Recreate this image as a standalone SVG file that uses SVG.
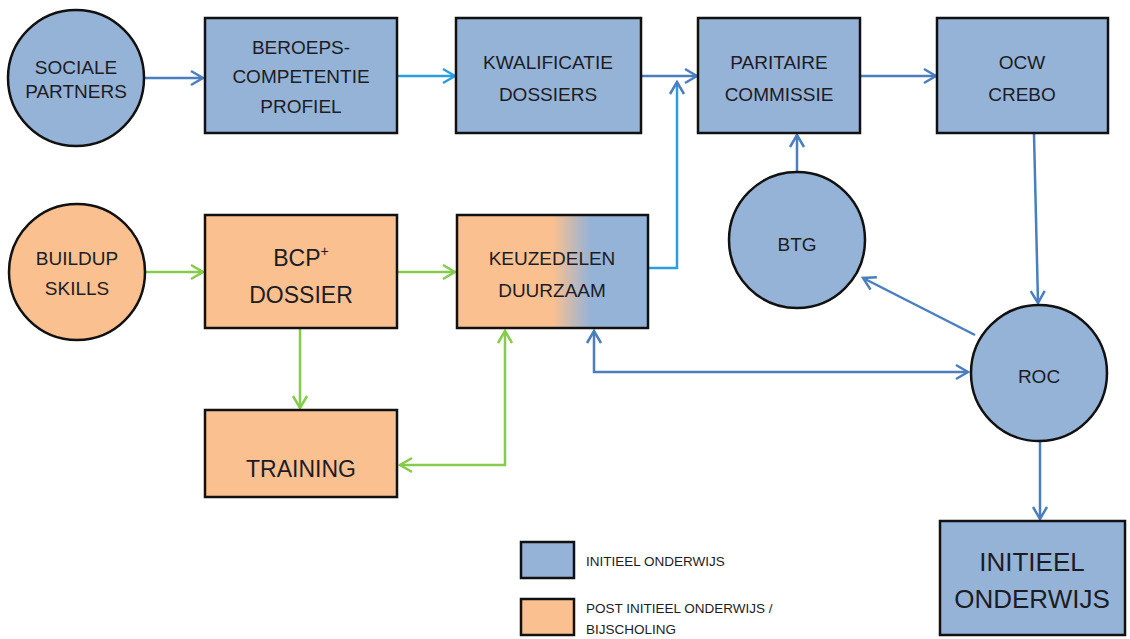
<svg xmlns="http://www.w3.org/2000/svg" width="1130" height="639" viewBox="0 0 1130 639">
<style>
.b{fill:#95b3d7;stroke:#111;stroke-width:2.5}
.o{fill:#fac090;stroke:#111;stroke-width:2.5}
text{font-family:"Liberation Sans","DejaVu Sans",sans-serif;fill:#1c1c24;text-anchor:middle}
.t20{font-size:19px}
.t24{font-size:23px}
.lg{font-size:13.5px;text-anchor:start}
.cb{fill:none;stroke:#4a7ebf;stroke-width:2.5}
.cc{fill:none;stroke:#2a9ee0;stroke-width:2.5}
.cg{fill:none;stroke:#84cc4a;stroke-width:2.5}
</style>
<defs>
<marker id="ab" markerUnits="userSpaceOnUse" markerWidth="16" markerHeight="18" viewBox="0 0 16 18" refX="14" refY="9" orient="auto-start-reverse"><path d="M2,2 L14,9 L2,16" fill="none" stroke="#4a7ebf" stroke-width="2.5"/></marker>
<marker id="ac" markerUnits="userSpaceOnUse" markerWidth="16" markerHeight="18" viewBox="0 0 16 18" refX="14" refY="9" orient="auto-start-reverse"><path d="M2,2 L14,9 L2,16" fill="none" stroke="#2a9ee0" stroke-width="2.5"/></marker>
<marker id="ag" markerUnits="userSpaceOnUse" markerWidth="16" markerHeight="18" viewBox="0 0 16 18" refX="14" refY="9" orient="auto-start-reverse"><path d="M2,2 L14,9 L2,16" fill="none" stroke="#84cc4a" stroke-width="2.5"/></marker>
<linearGradient id="kg" x1="0" y1="0" x2="1" y2="0">
<stop offset="0.5" stop-color="#fac090"/>
<stop offset="0.7" stop-color="#95b3d7"/>
</linearGradient>
</defs>
<rect width="1130" height="639" fill="#fff"/>

<g id="connectors">
<line class="cb" x1="145" y1="78" x2="203" y2="78" marker-end="url(#ab)"/>
<line class="cc" x1="398" y1="76" x2="455" y2="76" marker-end="url(#ac)"/>
<line class="cb" x1="642" y1="76" x2="697" y2="76" marker-end="url(#ab)"/>
<polyline class="cc" points="649,268 677,268 677,82" marker-end="url(#ab)"/>
<line class="cb" x1="861" y1="76" x2="936" y2="76" marker-end="url(#ab)"/>
<line class="cb" x1="797" y1="172" x2="797" y2="135" marker-end="url(#ab)"/>
<line class="cb" x1="1034" y1="134" x2="1038" y2="303" marker-end="url(#ab)"/>
<line class="cb" x1="975" y1="335" x2="863" y2="278" marker-end="url(#ab)"/>
<polyline class="cb" points="594,331 594,372 968,372" marker-start="url(#ab)" marker-end="url(#ab)"/>
<line class="cb" x1="1040" y1="441" x2="1040" y2="519" marker-end="url(#ab)"/>
<line class="cg" x1="146" y1="272" x2="203" y2="272" marker-end="url(#ag)"/>
<line class="cg" x1="398" y1="272" x2="455" y2="272" marker-end="url(#ag)"/>
<line class="cg" x1="300" y1="329" x2="300" y2="408" marker-end="url(#ag)"/>
<polyline class="cg" points="505,331 505,465 400,465" marker-start="url(#ag)" marker-end="url(#ag)"/>
</g>

<g id="sociale-partners">
<circle class="b" cx="76" cy="78" r="68"/>
<text class="t20" x="76" y="74">SOCIALE</text>
<text class="t20" x="76" y="98">PARTNERS</text>
</g>
<g id="beroeps">
<rect class="b" x="205" y="18" width="192" height="115"/>
<text class="t20" x="301" y="54">BEROEPS-</text>
<text class="t20" x="301" y="83">COMPETENTIE</text>
<text class="t20" x="301" y="113">PROFIEL</text>
</g>
<g id="kwalificatie">
<rect class="b" x="456" y="18" width="185" height="115"/>
<text class="t20" x="548" y="69">KWALIFICATIE</text>
<text class="t20" x="548" y="101">DOSSIERS</text>
</g>
<g id="paritaire">
<rect class="b" x="698" y="18" width="162" height="115"/>
<text class="t20" x="779" y="69">PARITAIRE</text>
<text class="t20" x="779" y="101">COMMISSIE</text>
</g>
<g id="ocw">
<rect class="b" x="937" y="18" width="171" height="115"/>
<text class="t20" x="1022" y="69">OCW</text>
<text class="t20" x="1022" y="101">CREBO</text>
</g>
<g id="buildup">
<circle class="o" cx="77" cy="272" r="68"/>
<text class="t20" x="77" y="265">BUILDUP</text>
<text class="t20" x="77" y="295">SKILLS</text>
</g>
<g id="bcp">
<rect class="o" x="205" y="215" width="192" height="113"/>
<text class="t24" x="301" y="266">BCP<tspan font-size="14" dy="-10">+</tspan></text>
<text class="t24" x="301" y="303">DOSSIER</text>
</g>
<g id="keuzedelen">
<rect x="457" y="215" width="191" height="113" fill="url(#kg)" stroke="#111" stroke-width="2.5"/>
<text class="t20" x="552" y="265">KEUZEDELEN</text>
<text class="t20" x="552" y="297">DUURZAAM</text>
</g>
<g id="training">
<rect class="o" x="205" y="410" width="192" height="87"/>
<text class="t24" x="301" y="477">TRAINING</text>
</g>
<g id="btg">
<circle class="b" cx="797" cy="240" r="68"/>
<text class="t20" x="797" y="251">BTG</text>
</g>
<g id="roc">
<circle class="b" cx="1039" cy="373" r="68"/>
<text class="t20" x="1039" y="383">ROC</text>
</g>
<g id="initieel">
<rect class="b" x="940" y="521" width="185" height="114"/>
<text x="1032" y="571" font-size="26">INITIEEL</text>
<text x="1032" y="608" font-size="26">ONDERWIJS</text>
</g>
<g id="legend">
<rect class="b" x="521" y="542" width="53" height="36" stroke-width="2"/>
<text class="lg" x="586" y="566">INITIEEL ONDERWIJS</text>
<rect class="o" x="521" y="599" width="53" height="36" stroke-width="2"/>
<text class="lg" x="586" y="613">POST INITIEEL ONDERWIJS /</text>
<text class="lg" x="586" y="634">BIJSCHOLING</text>
</g>
</svg>
